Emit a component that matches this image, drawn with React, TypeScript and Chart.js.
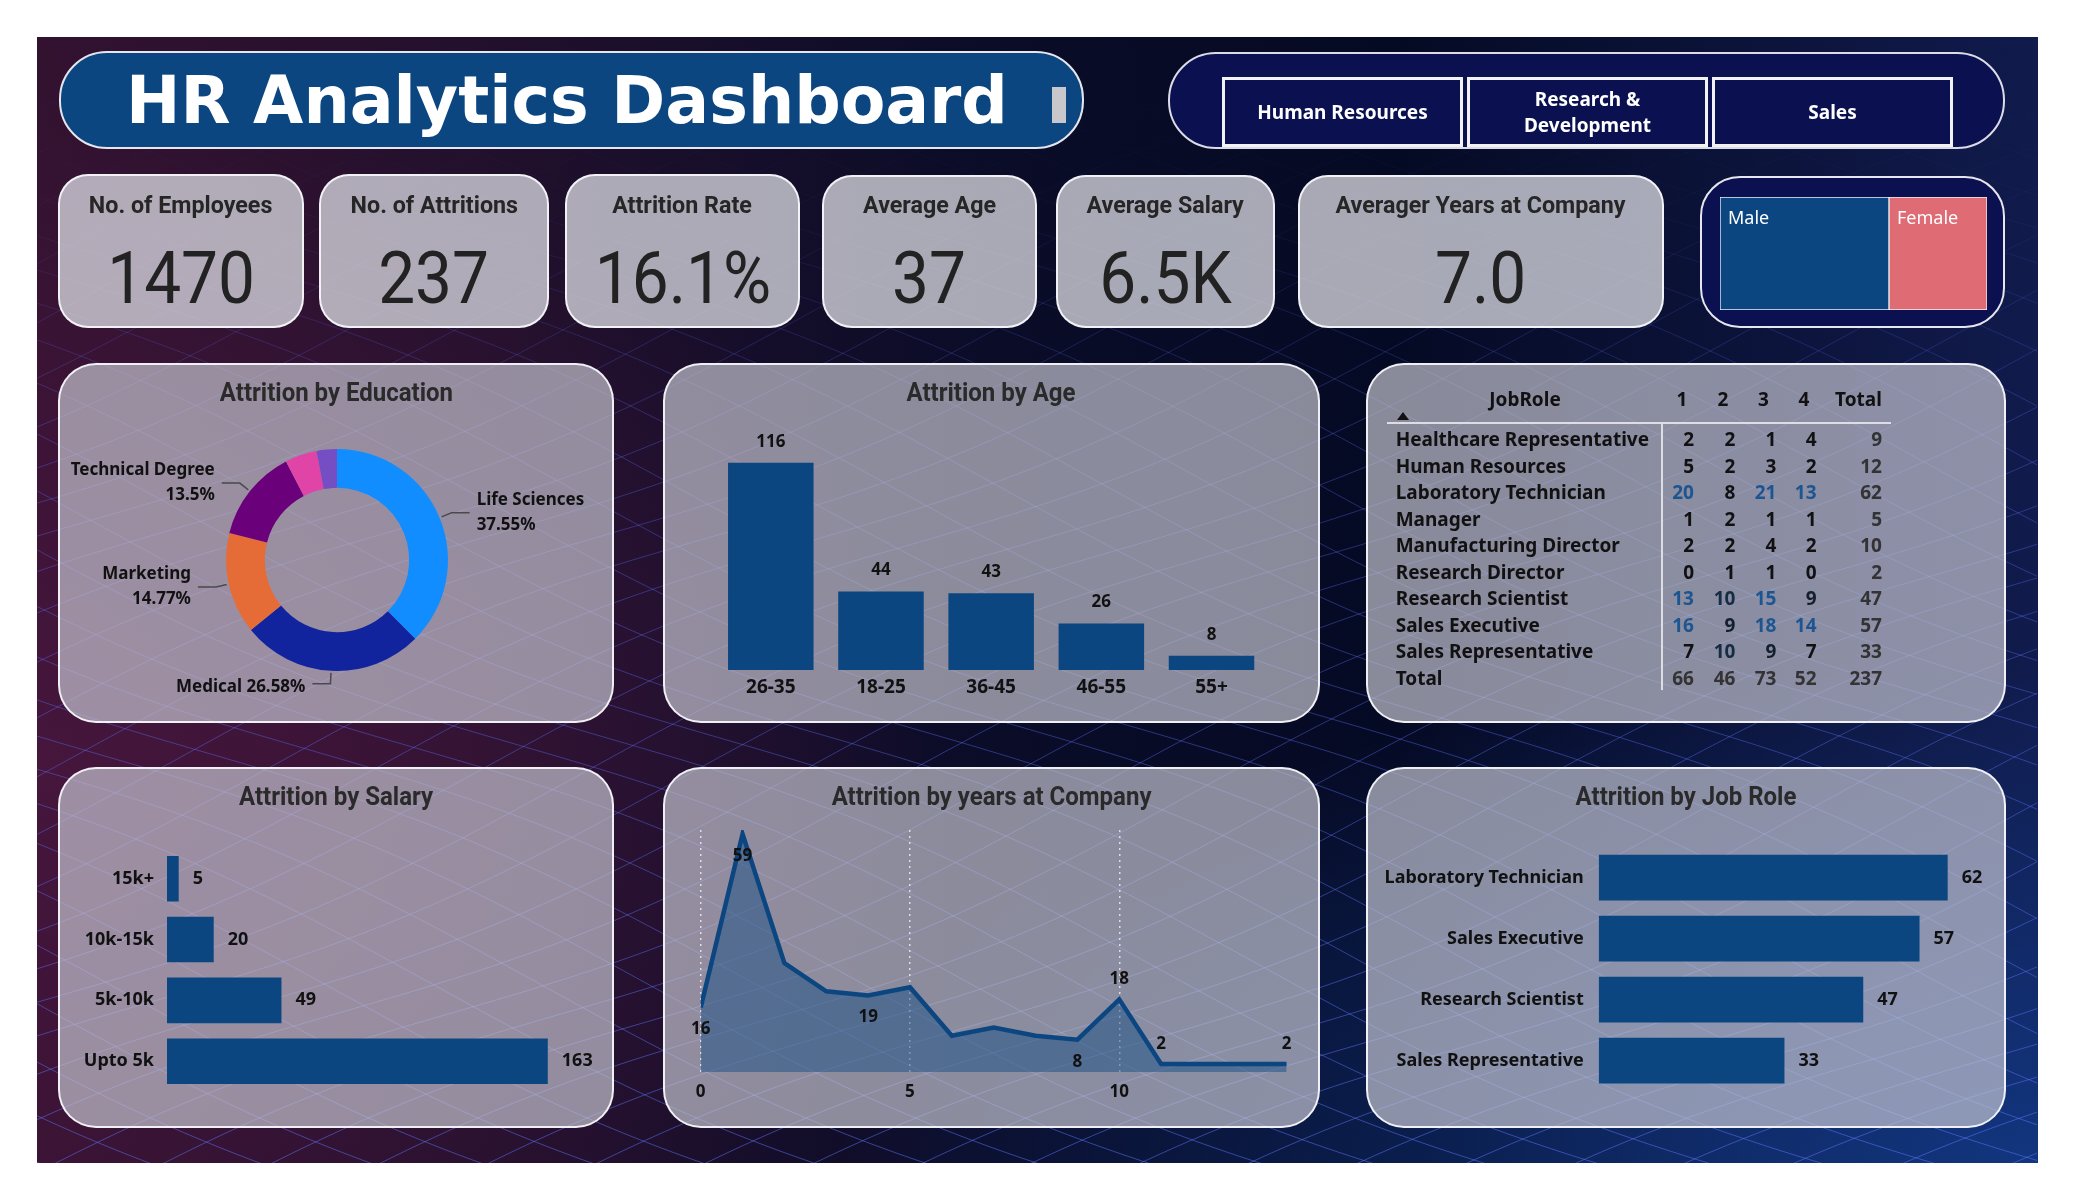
import React, { useEffect, useRef } from "react";
import { Chart, registerables } from "chart.js";

Chart.register(...registerables);
Chart.defaults.font.family = "'Noto Sans', sans-serif";
Chart.defaults.color = "#111";

// ---------- data ----------
const departments = ["Human Resources", "Research &\nDevelopment", "Sales"];

const kpiTitles = ["No. of Employees", "No. of Attritions", "Attrition Rate", "Average Age", "Average Salary", "Averager Years at Company"];
const kpiValues = ["1470", "237", "16.1%", "37", "6.5K", "7.0"];

const genders = ["Male", "Female"];
const genderAttrition = [150, 87];

const educationFields = ["Life Sciences", "Medical", "Marketing", "Technical Degree", "Other", "Human Resources"];
const educationAttrition = [89, 63, 35, 32, 11, 7];

const ageGroups = ["26-35", "18-25", "36-45", "46-55", "55+"];
const ageAttrition = [116, 44, 43, 26, 8];

const jobRoles = [
  "Healthcare Representative",
  "Human Resources",
  "Laboratory Technician",
  "Manager",
  "Manufacturing Director",
  "Research Director",
  "Research Scientist",
  "Sales Executive",
  "Sales Representative",
];
const satisfactionLevels = ["1", "2", "3", "4"];
const satisfaction1 = [2, 5, 20, 1, 2, 0, 13, 16, 7];
const satisfaction2 = [2, 2, 8, 2, 2, 1, 10, 9, 10];
const satisfaction3 = [1, 3, 21, 1, 4, 1, 15, 18, 9];
const satisfaction4 = [4, 2, 13, 1, 2, 0, 9, 14, 7];

const salaryBands = ["15k+", "10k-15k", "5k-10k", "Upto 5k"];
const salaryAttrition = [5, 20, 49, 163];

const yearsAtCompany = [0, 1, 2, 3, 4, 5, 6, 7, 8, 9, 10, 11, 12, 13, 14];
const yearsAttrition = [16, 59, 27, 20, 19, 21, 9, 11, 9, 8, 18, 2, 2, 2, 2];
const yearTicks = [0, 5, 10];
// which points carry a data label, and on which side of the line
const yearLabelsBelow = [0, 1, 4, 9];
const yearLabelsAbove = [10, 11, 14];

const topRoles = ["Laboratory Technician", "Sales Executive", "Research Scientist", "Sales Representative"];
const topRoleAttrition = [62, 57, 47, 33];

// ---------- styles ----------
const BLUE = "#0b4680";
const NAVY = "#0b1150";
const educationColors = ["#118dff", "#12239e", "#e66c37", "#6b007b", "#e044a7", "#744ec2"];
const genderColors = [BLUE, "#df6b74"];
const LABEL_FONT = "'Noto Sans', sans-serif";
const DIN = "Roboto, 'Noto Sans', sans-serif";

type Box = { left: number; top: number; width: number; height: number };
const abs = (b: Box): React.CSSProperties => ({
  position: "absolute",
  left: b.left,
  top: b.top,
  width: b.width,
  height: b.height,
  boxSizing: "border-box",
});

// ---------- chart plugins ----------
function valueLabels(horizontal: boolean, gap: number, size: number) {
  return {
    id: "valueLabels",
    afterDatasetsDraw(chart: any) {
      const { ctx } = chart;
      const meta = chart.getDatasetMeta(0);
      const values = chart.data.datasets[0].data as number[];
      ctx.save();
      ctx.font = `700 ${size}px ${LABEL_FONT}`;
      ctx.fillStyle = "#111";
      meta.data.forEach((el: any, i: number) => {
        const p = el.getProps(["x", "y"], true);
        ctx.textBaseline = "middle";
        if (horizontal) {
          ctx.textAlign = "left";
          ctx.fillText(String(values[i]), p.x + gap, p.y);
        } else {
          ctx.textAlign = "center";
          ctx.fillText(String(values[i]), p.x, p.y - gap);
        }
      });
      ctx.restore();
    },
  };
}

const donutLabels = {
  id: "donutLabels",
  afterDatasetsDraw(chart: any) {
    const { ctx } = chart;
    const meta = chart.getDatasetMeta(0);
    const values = chart.data.datasets[0].data as number[];
    const total = values.reduce((a, b) => a + b, 0);
    ctx.save();
    ctx.font = `700 17px ${LABEL_FONT}`;
    ctx.fillStyle = "#111";
    ctx.strokeStyle = "#4a4a4a";
    ctx.lineWidth = 1.5;
    meta.data.forEach((arc: any, i: number) => {
      const share = values[i] / total;
      if (share < 0.1) return;
      const a = arc.getProps(["x", "y", "startAngle", "endAngle", "outerRadius"], true);
      const mid = (a.startAngle + a.endAngle) / 2;
      const cos = Math.cos(mid);
      const sin = Math.sin(mid);
      const sx = a.x + cos * (a.outerRadius + 2);
      const sy = a.y + sin * (a.outerRadius + 2);
      const ex = a.x + cos * (a.outerRadius + 13);
      const ey = a.y + sin * (a.outerRadius + 13);
      const dir = cos >= 0 ? 1 : -1;
      const hx = ex + dir * 18;
      ctx.beginPath();
      ctx.moveTo(sx, sy);
      ctx.lineTo(ex, ey);
      ctx.lineTo(hx, ey);
      ctx.stroke();
      const pct = `${+(share * 100).toFixed(2)}%`;
      const name = chart.data.labels[i];
      ctx.textAlign = dir > 0 ? "left" : "right";
      ctx.textBaseline = "middle";
      const tx = hx + dir * 7;
      if (Math.abs(cos) < 0.3) {
        ctx.fillText(`${name} ${pct}`, tx, ey + 3);
      } else {
        ctx.fillText(name, tx, ey - 12.5);
        ctx.fillText(pct, tx, ey + 12.5);
      }
    });
    ctx.restore();
  },
};

const yearPointLabels = {
  id: "yearPointLabels",
  afterDatasetsDraw(chart: any) {
    const { ctx } = chart;
    const meta = chart.getDatasetMeta(0);
    ctx.save();
    ctx.font = `700 17px ${LABEL_FONT}`;
    ctx.fillStyle = "#111";
    ctx.textAlign = "center";
    ctx.textBaseline = "middle";
    const draw = (i: number, dy: number) => {
      const p = meta.data[i].getProps(["x", "y"], true);
      ctx.fillText(String(yearsAttrition[i]), p.x, p.y + dy);
    };
    yearLabelsBelow.forEach((i) => draw(i, 22));
    yearLabelsAbove.forEach((i) => draw(i, -20));
    ctx.restore();
  },
};

const genderLabels = {
  id: "genderLabels",
  afterDatasetsDraw(chart: any) {
    const { ctx } = chart;
    ctx.save();
    ctx.font = `400 18px ${LABEL_FONT}`;
    ctx.fillStyle = "#ffffff";
    ctx.textAlign = "left";
    ctx.textBaseline = "middle";
    chart.data.datasets.forEach((ds: any, i: number) => {
      const el = chart.getDatasetMeta(i).data[0];
      const p = el.getProps(["x", "y", "base", "height"], true);
      const left = Math.min(p.x, p.base);
      const top = p.y - p.height / 2;
      ctx.fillText(ds.label, left + 8, top + 22);
    });
    ctx.restore();
  },
};

// ---------- chart configs ----------
const hiddenPlugins = { legend: { display: false }, tooltip: { enabled: false } };

const educationConfig = () => ({
  type: "doughnut",
  data: {
    labels: educationFields,
    datasets: [{ data: educationAttrition, backgroundColor: educationColors, borderWidth: 0 }],
  },
  options: {
    responsive: false,
    animation: false,
    cutout: "65%",
    layout: { padding: 29 },
    plugins: hiddenPlugins,
  },
  plugins: [donutLabels],
});

const ageConfig = () => ({
  type: "bar",
  data: {
    labels: ageGroups,
    datasets: [{ data: ageAttrition, backgroundColor: BLUE, barPercentage: 0.776, categoryPercentage: 1 }],
  },
  options: {
    responsive: false,
    animation: false,
    layout: { padding: { left: 35.7, right: 33.4, top: 15, bottom: 0 } },
    scales: {
      x: {
        grid: { display: false, drawTicks: false },
        border: { display: false },
        ticks: { padding: 6.6, color: "#111", font: { size: 19, weight: "700" } },
      },
      y: { display: false, min: 0, max: 140 },
    },
    plugins: hiddenPlugins,
  },
  plugins: [valueLabels(false, 21, 17)],
});

function hBarConfig(labels: string[], values: number[], max: number, axisWidth: number, tickPad: number, padding: any) {
  return {
    type: "bar",
    data: {
      labels,
      datasets: [{ data: values, backgroundColor: BLUE, barPercentage: 0.75, categoryPercentage: 1 }],
    },
    options: {
      indexAxis: "y",
      responsive: false,
      animation: false,
      layout: { padding },
      scales: {
        x: { display: false, min: 0, max },
        y: {
          grid: { display: false, drawTicks: false },
          border: { display: false },
          ticks: { padding: tickPad, color: "#111", font: { size: 18, weight: "700" } },
          afterFit: (s: any) => {
            s.width = axisWidth;
            s.paddingTop = 0;
            s.paddingBottom = 0;
          },
        },
      },
      plugins: hiddenPlugins,
    },
    plugins: [valueLabels(true, 14, 18)],
  };
}

const yearsConfig = () => ({
  type: "line",
  data: {
    datasets: [
      {
        data: yearsAtCompany.map((x, i) => ({ x, y: yearsAttrition[i] })),
        borderColor: BLUE,
        borderWidth: 4.5,
        backgroundColor: "rgba(11,70,128,0.45)",
        fill: "origin",
        pointRadius: 0,
        tension: 0,
      },
    ],
  },
  options: {
    responsive: false,
    animation: false,
    layout: { padding: { left: 25.7, right: 23.3, top: 15, bottom: 0 } },
    scales: {
      x: {
        type: "linear",
        min: yearsAtCompany[0],
        max: yearsAtCompany[yearsAtCompany.length - 1],
        afterBuildTicks: (s: any) => {
          s.ticks = yearTicks.map((v) => ({ value: v }));
        },
        grid: { display: true, drawTicks: false, color: "rgba(235,235,242,0.85)", lineWidth: 1.5 },
        border: { display: false, dash: [2, 4] },
        ticks: { padding: 9.8, color: "#111", font: { size: 17, weight: "700" } },
      },
      y: { display: false, min: 0, max: 60 },
    },
    plugins: hiddenPlugins,
  },
  plugins: [yearPointLabels],
});

const genderConfig = () => ({
  type: "bar",
  data: {
    labels: ["Attrition"],
    datasets: genders.map((g, i) => ({
      label: g,
      data: [genderAttrition[i]],
      backgroundColor: genderColors[i],
      borderColor: "#f2f2f2",
      borderWidth: 1,
      borderSkipped: false,
      barPercentage: 1,
      categoryPercentage: 1,
    })),
  },
  options: {
    indexAxis: "y",
    responsive: false,
    animation: false,
    layout: { padding: 0 },
    scales: {
      x: { display: false, stacked: true, min: 0, max: genderAttrition.reduce((a, b) => a + b, 0) },
      y: { display: false, stacked: true },
    },
    plugins: hiddenPlugins,
  },
  plugins: [genderLabels],
});

// ---------- components ----------
function ChartCanvas({ box, config }: { box: Box; config: () => any }) {
  const ref = useRef<HTMLCanvasElement>(null);
  useEffect(() => {
    const chart = new Chart(ref.current as HTMLCanvasElement, config());
    return () => chart.destroy();
  }, []);
  return <canvas ref={ref} width={box.width} height={box.height} style={abs(box)} />;
}

function Mesh({ width, height }: { width: number; height: number }) {
  const ref = useRef<HTMLCanvasElement>(null);
  useEffect(() => {
    const ctx = (ref.current as HTMLCanvasElement).getContext("2d") as CanvasRenderingContext2D;
    ctx.clearRect(0, 0, width, height);
    const g = ctx.createLinearGradient(0, 0, 0, height);
    g.addColorStop(0, "rgba(95,110,255,0)");
    g.addColorStop(0.15, "rgba(95,110,255,0.05)");
    g.addColorStop(0.35, "rgba(95,110,255,0.32)");
    g.addColorStop(1, "rgba(95,120,255,0.5)");
    ctx.strokeStyle = g;
    ctx.lineWidth = 1;
    const step = 46;
    for (let k = -60; k < 60; k++) {
      for (const dir of [1, -1]) {
        ctx.beginPath();
        for (let x = 0; x <= width; x += 10) {
          const y = k * step + dir * 0.42 * x + 22 * Math.sin(x / 170 + k * 0.6 * dir);
          if (x === 0) ctx.moveTo(x, y);
          else ctx.lineTo(x, y);
        }
        ctx.stroke();
      }
    }
  }, [width, height]);
  return <canvas ref={ref} width={width} height={height} style={{ position: "absolute", left: 0, top: 0 }} />;
}

const panelStyle = (b: Box): React.CSSProperties => ({
  ...abs(b),
  background: "rgba(200,200,212,0.68)",
  border: "2px solid rgba(245,245,250,0.95)",
  borderRadius: 38,
});

const kpiStyle = (b: Box): React.CSSProperties => ({
  ...abs(b),
  background: "rgba(220,220,228,0.76)",
  border: "2px solid rgba(245,245,250,0.95)",
  borderRadius: 30,
});

function PanelTitle({ panel, text }: { panel: Box; text: string }) {
  return (
    <div
      style={{
        position: "absolute",
        left: panel.left,
        width: panel.width,
        top: panel.top + 14,
        height: 32,
        lineHeight: "32px",
        textAlign: "center",
        fontFamily: DIN,
        fontWeight: 700,
        fontSize: 25,
        color: "#2a2a2a",
      }}
    >
      <span style={{ display: "inline-block", transform: "scaleX(0.96)" }}>{text}</span>
    </div>
  );
}

const kpiBoxes: Box[] = [
  { left: 58, top: 174, width: 246, height: 154 },
  { left: 319, top: 174, width: 230, height: 154 },
  { left: 565, top: 174, width: 235, height: 154 },
  { left: 822, top: 175, width: 215, height: 153 },
  { left: 1056, top: 175, width: 219, height: 153 },
  { left: 1298, top: 175, width: 366, height: 153 },
];

const panels = {
  education: { left: 58, top: 363, width: 556, height: 360 },
  age: { left: 663, top: 363, width: 657, height: 360 },
  table: { left: 1366, top: 363, width: 640, height: 360 },
  salary: { left: 58, top: 767, width: 556, height: 361 },
  years: { left: 663, top: 767, width: 657, height: 361 },
  jobRole: { left: 1366, top: 767, width: 640, height: 361 },
};

function cellColor(v: number) {
  const t = Math.max(0, Math.min(1, (v - 8) / 5));
  const mix = (a: number, b: number) => Math.round(a + (b - a) * t);
  return `rgb(${mix(17, 29)},${mix(17, 85)},${mix(17, 145)})`;
}

function MatrixTable() {
  const columns = [satisfaction1, satisfaction2, satisfaction3, satisfaction4];
  const rowTotals = jobRoles.map((_, r) => columns.reduce((s, c) => s + c[r], 0));
  const colTotals = columns.map((c) => c.reduce((a, b) => a + b, 0));
  const grand = colTotals.reduce((a, b) => a + b, 0);
  const rowY0 = 439.3;
  const rowStep = 26.55;
  const labelX = 1395.7;
  const colRight = [1694, 1735.4, 1776.4, 1816.6, 1882];
  const headCenter = [1682, 1723, 1763.5, 1804, 1858.5];
  const txt: React.CSSProperties = {
    position: "absolute",
    fontFamily: LABEL_FONT,
    fontWeight: 700,
    fontSize: 19,
    height: rowStep,
    lineHeight: `${rowStep}px`,
    whiteSpace: "nowrap",
  };
  const num = (v: number | string, right: number, y: number, color: string, key: string) => (
    <div key={key} style={{ ...txt, left: right - 70, width: 70, top: y - rowStep / 2, textAlign: "right", color }}>
      {v}
    </div>
  );
  const rows = [...jobRoles, "Total"];
  return (
    <>
      <div style={{ ...txt, left: 1440, width: 170, top: 399 - rowStep / 2, textAlign: "center", color: "#111" }}>JobRole</div>
      {[...satisfactionLevels, "Total"].map((h, i) => (
        <div key={"h" + i} style={{ ...txt, left: headCenter[i] - 40, width: 80, top: 399 - rowStep / 2, textAlign: "center", color: "#111" }}>
          {h}
        </div>
      ))}
      <div
        style={{
          position: "absolute",
          left: 1396.5,
          top: 411.5,
          width: 0,
          height: 0,
          borderLeft: "6px solid transparent",
          borderRight: "6px solid transparent",
          borderBottom: "8px solid #111",
        }}
      />
      <div style={{ position: "absolute", left: 1387, top: 422, width: 504, height: 2, background: "rgba(225,225,232,0.95)" }} />
      <div style={{ position: "absolute", left: 1661, top: 423, width: 2, height: 267, background: "rgba(225,225,232,0.95)" }} />
      {rows.map((name, r) => {
        const y = rowY0 + r * rowStep;
        const isTotal = r === jobRoles.length;
        return (
          <React.Fragment key={"r" + r}>
            <div style={{ ...txt, left: labelX, top: y - rowStep / 2, color: "#111" }}>{name}</div>
            {columns.map((c, ci) =>
              isTotal
                ? num(colTotals[ci], colRight[ci], y, "#333", `c${r}-${ci}`)
                : num(c[r], colRight[ci], y, cellColor(c[r]), `c${r}-${ci}`)
            )}
            {num(isTotal ? grand : rowTotals[r], colRight[4], y, "#333", `t${r}`)}
          </React.Fragment>
        );
      })}
    </>
  );
}

export default function App() {
  const dash = { left: 37, top: 37, width: 2001, height: 1126 };
  return (
    <div style={{ position: "absolute", left: 0, top: 0, width: 2075, height: 1200, background: "#ffffff", overflow: "hidden" }}>
      {/* backdrop */}
      <div
        style={{
          ...abs(dash),
          overflow: "hidden",
          background:
            "radial-gradient(ellipse 60% 45% at 100% 100%, rgba(18,58,135,0.85), rgba(18,58,135,0) 100%)," +
            "radial-gradient(ellipse 45% 60% at 0% 65%, rgba(72,22,62,0.9), rgba(72,22,62,0) 100%)," +
            "linear-gradient(90deg, #331230 0%, #22102c 22%, #0a0c28 48%, #050a24 68%, #111b4c 100%)",
        }}
      >
        <Mesh width={dash.width} height={dash.height} />
      </div>

      {/* title */}
      <div
        style={{
          ...abs({ left: 59, top: 51, width: 1025, height: 98 }),
          background: BLUE,
          border: "2px solid #e6e6ee",
          borderRadius: 48,
        }}
      />
      <div
        style={{
          position: "absolute",
          left: 126,
          top: 51,
          height: 98,
          display: "flex",
          alignItems: "center",
          fontFamily: "'DejaVu Sans', sans-serif",
          fontWeight: 700,
          fontSize: 65,
          color: "#ffffff",
          whiteSpace: "nowrap",
        }}
      >
        HR Analytics Dashboard
      </div>
      <div style={{ position: "absolute", left: 1052, top: 87, width: 14, height: 36, background: "#c8c8cc" }} />

      {/* department slicer */}
      <div
        style={{
          ...abs({ left: 1168, top: 52, width: 837, height: 97 }),
          background: NAVY,
          border: "2px solid #dcdce8",
          borderRadius: 48,
        }}
      />
      {departments.map((d, i) => (
        <div
          key={d}
          style={{
            ...abs({ left: [1222, 1467, 1712][i], top: 77, width: 241, height: 70 }),
            background: NAVY,
            border: "3px solid #f2f2f2",
            display: "flex",
            alignItems: "center",
            justifyContent: "center",
            textAlign: "center",
            whiteSpace: "pre-line",
            fontFamily: LABEL_FONT,
            fontWeight: 700,
            fontSize: 19,
            lineHeight: "26px",
            color: "#ffffff",
          }}
        >
          {d}
        </div>
      ))}

      {/* KPI cards */}
      {kpiBoxes.map((b, i) => (
        <div key={kpiTitles[i]} style={kpiStyle(b)}>
          <div
            style={{
              position: "absolute",
              left: 0,
              right: 0,
              top: 205 - b.top - 16 - 2,
              height: 32,
              lineHeight: "32px",
              textAlign: "center",
              fontFamily: DIN,
              fontWeight: 700,
              fontSize: 24,
              color: "#262626",
              whiteSpace: "nowrap",
            }}
          >
            <span style={{ display: "inline-block", transform: "scaleX(0.97)" }}>{kpiTitles[i]}</span>
          </div>
          <div
            style={{
              position: "absolute",
              left: 0,
              right: 0,
              top: 278 - b.top - 40 - 2,
              height: 80,
              lineHeight: "80px",
              textAlign: "center",
              fontFamily: DIN,
              fontWeight: 400,
              fontSize: 73,
              color: "#222222",
            }}
          >
            <span style={{ display: "inline-block", transform: "scaleX(0.9)" }}>{kpiValues[i]}</span>
          </div>
        </div>
      ))}

      {/* gender split */}
      <div
        style={{
          ...abs({ left: 1700, top: 176, width: 305, height: 152 }),
          background: NAVY,
          border: "2px solid #e6e6ee",
          borderRadius: 40,
        }}
      />
      <ChartCanvas box={{ left: 1720, top: 197, width: 267, height: 113 }} config={genderConfig} />

      {/* panels */}
      <div style={panelStyle(panels.education)} />
      <div style={panelStyle(panels.age)} />
      <div style={panelStyle(panels.table)} />
      <div style={panelStyle(panels.salary)} />
      <div style={panelStyle(panels.years)} />
      <div style={panelStyle(panels.jobRole)} />

      <PanelTitle panel={panels.education} text="Attrition by Education" />
      <PanelTitle panel={panels.age} text="Attrition by Age" />
      <PanelTitle panel={panels.salary} text="Attrition by Salary" />
      <PanelTitle panel={panels.years} text="Attrition by years at Company" />
      <PanelTitle panel={panels.jobRole} text="Attrition by Job Role" />

      <ChartCanvas box={{ left: 60, top: 420, width: 554, height: 280 }} config={educationConfig} />
      <ChartCanvas box={{ left: 680, top: 405, width: 620, height: 301 }} config={ageConfig} />
      <MatrixTable />
      <ChartCanvas
        box={{ left: 62, top: 840, width: 548, height: 260 }}
        config={() => hBarConfig(salaryBands, salaryAttrition, 180, 105, 13, { left: 0, right: 22.5, top: 8.3, bottom: 8.4 })}
      />
      <ChartCanvas box={{ left: 675, top: 815, width: 635, height: 297 }} config={yearsConfig} />
      <ChartCanvas
        box={{ left: 1375, top: 840, width: 625, height: 260 }}
        config={() => hBarConfig(topRoles, topRoleAttrition, 70, 223.7, 15, { left: 0, right: 7.3, top: 7, bottom: 8.8 })}
      />
    </div>
  );
}
